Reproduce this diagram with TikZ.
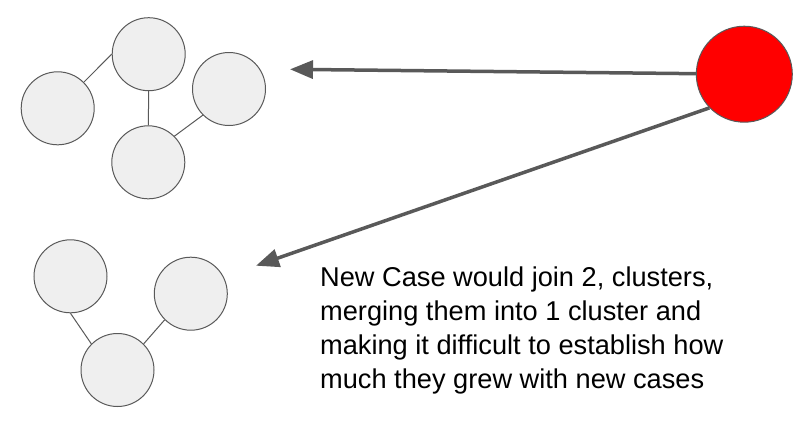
\documentclass[tikz,border=0pt]{standalone}
\usepackage{fontspec}
\setmainfont{Liberation Sans}
\usetikzlibrary{arrows.meta}
\definecolor{casegray}{HTML}{EFEFEF}
\definecolor{linegray}{HTML}{595959}
\definecolor{casered}{HTML}{FF0000}

\begin{document}
\begin{tikzpicture}[x=1pt,y=-1pt,
                    link/.style={draw=linegray,line width=1pt},
                    spread/.style={draw=linegray,line width=3.5pt,
                                   -{Triangle[length=23pt,width=18pt]}}]
  \tikzstyle{case}=[circle,draw=linegray,fill=casegray,line width=1pt,
                    inner sep=0pt,minimum size=73pt]
  \useasboundingbox (0,0) rectangle (808,440);

  % first cluster
  \node[case] (A) at (57.7,108.3) {};
  \node[case] (B) at (148.7,54.2)  {};
  \node[case] (C) at (229,89)      {};
  \node[case] (D) at (148.3,162.3) {};
  % second cluster
  \node[case] (E) at (70.5,276.3)  {};
  \node[case] (F) at (190.8,293.7) {};
  \node[case] (G) at (117.5,370)   {};
  % new case
  \node[case,fill=casered,minimum size=96pt] (N) at (744.3,74.2) {};

  \draw[link] (A.45) -- (B.180);
  \draw[link] (B) -- (D);
  \draw[link] (D.45) -- (C.225);
  \draw[link] (E.270) -- (G.135);
  \draw[link] (G.45) -- (F.225);

  \coordinate (top)    at (290,69.3);
  \coordinate (bottom) at (256,265.7);
  \draw[spread] (N) -- (top);
  \draw[spread] (N.224) -- (bottom);

  % base is the last line here
  \node[anchor=base west,inner sep=0pt,align=left,
        font=\fontsize{27.2}{33.7}\selectfont] (note) at (320,388)
    {New Case would join 2, clusters,\\
     merging them into 1 cluster and\\
     making it difficult to establish how\\
     much they grew with new cases};
\end{tikzpicture}
\end{document}
